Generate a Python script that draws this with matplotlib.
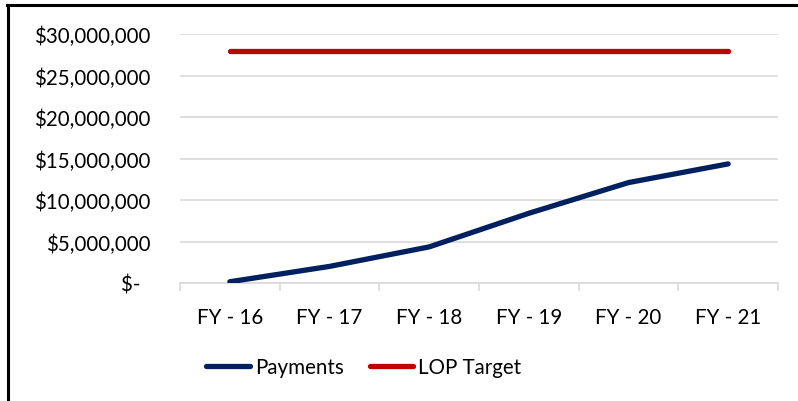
import matplotlib
matplotlib.use("Agg")
import matplotlib.pyplot as plt
from matplotlib.lines import Line2D
from matplotlib.ticker import FuncFormatter, FixedLocator

plt.rcParams['font.family'] = ['Lato', 'DejaVu Sans']

categories = ["FY - 16", "FY - 17", "FY - 18", "FY - 19", "FY - 20", "FY - 21"]
payments = [150000, 2000000, 4350000, 8400000, 12100000, 14350000]
lop_target = [28000000, 28000000, 28000000, 28000000, 28000000, 28000000]
y_ticks = [0, 5000000, 10000000, 15000000, 20000000, 25000000, 30000000]

W, H = 798, 402
fig = plt.figure(figsize=(W / 100, H / 100), dpi=100)
ax = fig.add_axes([180 / W, 118 / H, 598 / W, 249 / H])

x = list(range(len(categories)))
navy = "#002060"
red = "#C00000"
ax.plot(x, payments, color=navy, lw=3.8, solid_capstyle='round', label="Payments", zorder=3)
ax.plot(x, lop_target, color=red, lw=3.8, solid_capstyle='round', label="LOP Target", zorder=3)

ax.set_xlim(-0.5, len(categories) - 0.5)
ax.set_ylim(0, 30000000)
ax.set_yticks(y_ticks)

def fmt(v, pos):
    if v == 0:
        return "$-  "
    return "${:,.0f}".format(v)

ax.yaxis.set_major_formatter(FuncFormatter(fmt))
ax.tick_params(axis='y', length=0, pad=21, labelsize=14.8, colors='black')
ax.grid(axis='y', color='#D9D9D9', lw=1.2)
ax.set_axisbelow(True)

ax.set_xticks(x)
ax.set_xticklabels(categories)
ax.xaxis.set_minor_locator(FixedLocator([i - 0.5 for i in range(len(categories) + 1)]))
ax.tick_params(axis='x', which='major', length=0, pad=17, labelsize=14.8)
ax.tick_params(axis='x', which='minor', length=6, width=1.2, color='#D9D9D9')

for s in ['top', 'right', 'left']:
    ax.spines[s].set_visible(False)
ax.spines['bottom'].set_color('#D9D9D9')
ax.spines['bottom'].set_linewidth(1.2)

handles = [Line2D([], [], color=navy, lw=3.8, solid_capstyle='round'),
           Line2D([], [], color=red, lw=3.8, solid_capstyle='round')]
fig.legend(handles, ["Payments", "LOP Target"], loc='center', bbox_to_anchor=(364 / W, 1 - 368 / H),
           ncol=2, frameon=False, fontsize=14.8, handlelength=2.1, handletextpad=0.25,
           columnspacing=1.3)

# figure border (left and top visible)
fig.add_artist(Line2D([7.5 / W, 7.5 / W], [0, 1 - 6 / H], transform=fig.transFigure, color='black', lw=2.2))
fig.add_artist(Line2D([6.5 / W, 1], [1 - 6 / H, 1 - 6 / H], transform=fig.transFigure, color='black', lw=2.2))

fig.savefig("out.png", dpi=100)
